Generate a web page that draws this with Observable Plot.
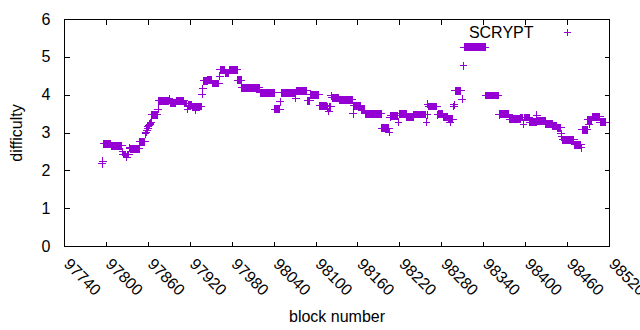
<!DOCTYPE html>
<html><head><meta charset="utf-8">
<script src="https://cdn.jsdelivr.net/npm/d3@7"></script>
<script src="https://cdn.jsdelivr.net/npm/@observablehq/plot@0.6"></script>
<style>html,body{margin:0;padding:0;background:#fff} #chart svg{display:block}</style>
</head><body><div id="chart"></div>
<script>
// Runs of consecutive blocks sharing one difficulty
const runStart = [97794,97795,97796,97807,97823,97824,97829,97830,97833,97834,97848,97856,97857,97858,97859,97860,97861,97862,97863,97864,97865,97874,97875,97890,97891,97900,97912,97916,97917,97923,97928,97929,97937,97938,97939,97945,97952,97962,97963,97970,97976,97988,97994,98020,98041,98049,98050,98071,98072,98088,98092,98105,98116,98118,98119,98122,98123,98133,98153,98154,98165,98171,98194,98205,98206,98207,98218,98219,98230,98240,98258,98259,98260,98261,98274,98275,98282,98289,98292,98293,98297,98298,98299,98309,98311,98312,98343,98362,98363,98377,98393,98397,98398,98406,98416,98417,98429,98439,98445,98451,98452,98453,98470,98480,98481,98489,98491,98492,98495,98507];
const runEnd   = [97794,97795,97806,97822,97823,97828,97829,97832,97833,97847,97855,97856,97857,97858,97859,97860,97861,97862,97863,97864,97873,97874,97889,97890,97899,97911,97915,97916,97922,97927,97928,97936,97937,97938,97944,97951,97961,97962,97969,97975,97987,97993,98019,98040,98048,98049,98070,98071,98087,98091,98104,98115,98117,98118,98121,98122,98132,98152,98153,98164,98170,98193,98204,98205,98206,98217,98218,98229,98239,98257,98258,98259,98260,98273,98274,98281,98288,98291,98292,98296,98297,98298,98307,98309,98311,98342,98361,98362,98376,98392,98396,98397,98405,98415,98416,98428,98438,98444,98450,98451,98452,98469,98479,98480,98488,98490,98491,98494,98506,98514];
const runDifficulty = [2.19,2.25,2.72,2.66,2.50,2.43,2.36,2.43,2.61,2.58,2.77,2.98,3.02,3.07,3.11,3.16,3.20,3.23,3.26,3.29,3.48,3.63,3.85,3.90,3.79,3.85,3.78,3.62,3.73,3.68,3.60,3.70,4.02,4.17,4.38,4.40,4.31,4.50,4.67,4.58,4.67,4.40,4.19,4.06,3.63,3.82,4.06,3.92,4.12,3.85,4.01,3.72,3.69,3.57,3.69,3.98,3.93,3.88,3.51,3.72,3.60,3.51,3.13,3.02,3.42,3.45,3.29,3.51,3.42,3.49,3.29,3.48,3.76,3.70,3.48,3.50,3.43,3.37,3.29,3.37,3.70,3.75,4.12,3.89,4.78,5.27,3.99,3.48,3.50,3.36,3.41,3.23,3.41,3.28,3.47,3.31,3.24,3.18,3.14,2.98,2.90,2.82,2.69,2.61,3.08,3.35,3.23,3.35,3.43,3.28];

const xTicks = [97740,97800,97860,97920,97980,98040,98100,98160,98220,98280,98340,98400,98460,98520];
const yTicks = [0,1,2,3,4,5,6];
const xDomain = [97740, 98520];
const yDomain = [0, 6];
const seriesName = "SCRYPT";
const xLabel = "block number";
const yLabel = "difficulty";

const points = [];
runStart.forEach((s, i) => {
  for (let b = s; b <= runEnd[i]; b++) points.push({block: b, difficulty: runDifficulty[i]});
});

const W = 640, H = 330, mL = 64, mR = 31, mT = 19, mB = 84;
const TL = 5; // inward tick length
const color = "#9400d3";
const font = "'Liberation Sans', Arial, sans-serif";

// inward tick symbols
const tickUp    = {draw(c) { c.moveTo(0, 0); c.lineTo(0, -TL); }};
const tickDown  = {draw(c) { c.moveTo(0, 0); c.lineTo(0, TL); }};
const tickRight = {draw(c) { c.moveTo(0, 0); c.lineTo(TL, 0); }};
const tickLeft  = {draw(c) { c.moveTo(0, 0); c.lineTo(-TL, 0); }};
const tickStyle = {fill: "none", stroke: "#000", strokeWidth: 1, shapeRendering: "crispEdges"};

const chart = Plot.plot({
  width: W, height: H,
  marginLeft: mL, marginRight: mR, marginTop: mT, marginBottom: mB,
  style: {fontFamily: font, fontSize: "16px", color: "#000", background: "#fff"},
  x: {domain: xDomain, label: null},
  y: {domain: yDomain, label: null},
  marks: [
    Plot.dot(xTicks, {x: d => d, frameAnchor: "bottom", symbol: tickUp, ...tickStyle}),
    Plot.dot(xTicks, {x: d => d, frameAnchor: "top", symbol: tickDown, ...tickStyle}),
    Plot.dot(yTicks, {y: d => d, frameAnchor: "left", symbol: tickRight, ...tickStyle}),
    Plot.dot(yTicks, {y: d => d, frameAnchor: "right", symbol: tickLeft, ...tickStyle}),
    Plot.frame({stroke: "#000", strokeWidth: 1, shapeRendering: "crispEdges"}),
    Plot.axisX({ticks: xTicks, tickSize: 0, tickRotate: 45, tickPadding: 15, dx: 2, tickFormat: d => String(d),
      fontSize: 16, label: null}),
    Plot.axisX({ticks: [], tickSize: 0, label: xLabel, labelAnchor: "center", labelOffset: 75, labelArrow: false, fontSize: 16}),
    Plot.axisY({ticks: yTicks, tickSize: 0, tickPadding: 14, tickFormat: d => String(d), fontSize: 16,
      label: yLabel, labelAnchor: "center", labelOffset: 54, labelArrow: false}),
    Plot.dot(points, {x: "block", y: "difficulty", symbol: "plus", r: 2.65, stroke: color, strokeWidth: 1, shapeRendering: "crispEdges"}),
    Plot.text([seriesName], {frameAnchor: "top-right", dx: -76, dy: 13, textAnchor: "end", lineAnchor: "middle", fontSize: 16, fill: "#000"}),
    Plot.dot([seriesName], {frameAnchor: "top-right", dx: -42, dy: 13, symbol: "plus", r: 2.65, stroke: color, strokeWidth: 1, shapeRendering: "crispEdges"})
  ]
});
document.getElementById("chart").appendChild(chart);
</script>
</body></html>
